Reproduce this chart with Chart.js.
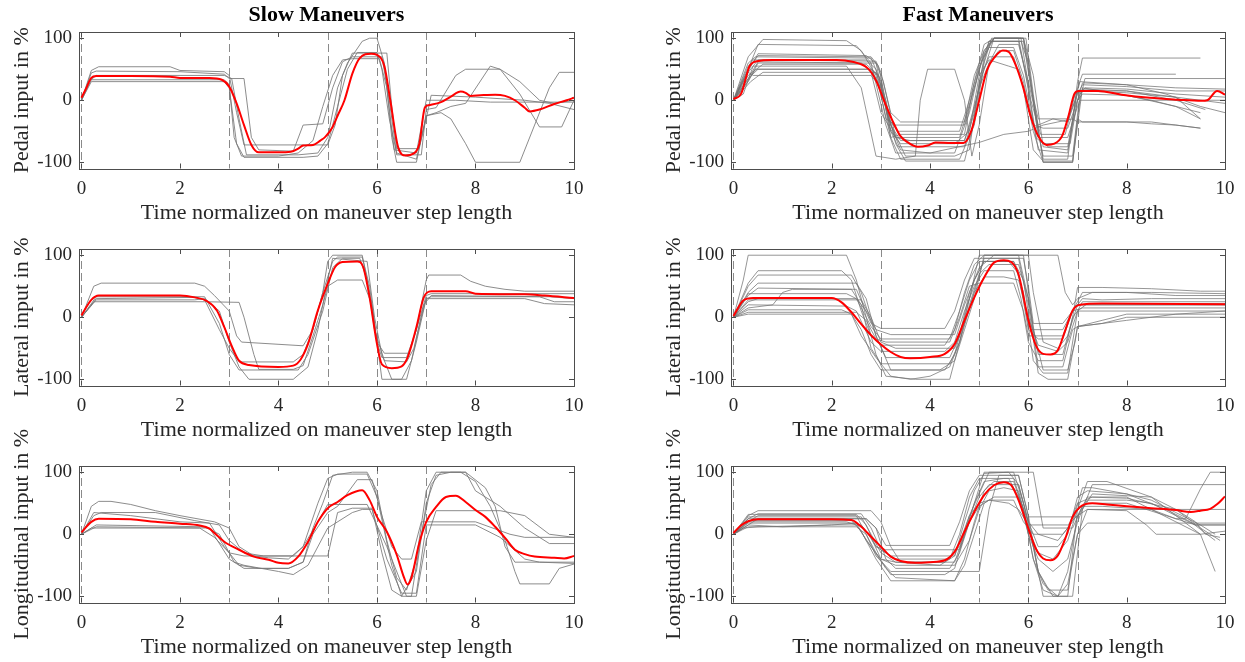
<!DOCTYPE html>
<html>
<head>
<meta charset="utf-8">
<title>Slow and fast maneuvers</title>
<script src="https://cdn.jsdelivr.net/npm/chart.js@4.4.0/dist/chart.umd.min.js"></script>
<style>
  html, body { margin: 0; padding: 0; background: #fff; overflow: hidden; }
  #figure { position: relative; width: 1245px; height: 662px; }
  #figure canvas { position: absolute; }
</style>
</head>
<body>
<div id="figure">
  <canvas id="slowPedal" width="600" height="227" style="left:0;top:0"></canvas>
  <canvas id="slowLateral" width="600" height="247" style="left:0;top:197px"></canvas>
  <canvas id="slowLong" width="600" height="247" style="left:0;top:414px"></canvas>
  <canvas id="fastPedal" width="600" height="227" style="left:645px;top:0"></canvas>
  <canvas id="fastLateral" width="600" height="247" style="left:645px;top:197px"></canvas>
  <canvas id="fastLong" width="600" height="247" style="left:645px;top:414px"></canvas>
</div>
<script>
// Axis ticks and maneuver phase boundaries
const timeTicks = [0, 2, 4, 6, 8, 10];
const inputTicks = [-100, 0, 100];
const phaseBounds = [0, 3, 5, 6, 7];

// ---- Slow maneuvers: pedal ----
const slowPedalMean = [[0,4],[0.1,20],[0.2,36],[0.3,39],[1.0,39],[1.8,38],[2.0,36],[2.6,36],[2.85,33],[3.0,22],[3.15,-5],[3.3,-40],[3.45,-72],[3.6,-84],[4.0,-84],[4.25,-83],[4.4,-78],[4.5,-73],[4.7,-72],[4.85,-65],[4.95,-59],[5.1,-43],[5.2,-25],[5.34,0],[5.5,43],[5.65,68],[5.88,75],[6.0,73],[6.15,55],[6.27,0],[6.43,-76],[6.58,-89],[6.74,-86],[6.86,-70],[6.97,-12],[7.05,-8],[7.3,-3],[7.5,6],[7.7,14],[7.8,12],[7.9,7],[8.1,8],[8.4,9],[8.6,7],[8.8,0],[9.0,-12],[9.1,-18],[9.3,-15],[9.6,-6],[9.85,0],[10,4]];
const slowPedalRuns = [
  [[0,0],[0.2,48],[0.35,54],[1.8,54],[2.0,48],[2.9,46],[3.0,40],[3.15,-20],[3.3,-72],[5.0,-72],[5.15,-40],[5.3,40],[5.5,76],[6.2,76],[6.3,-10],[6.4,-78],[6.85,-78],[7.0,-30],[7.1,8],[8.0,5],[9.0,0],[9.5,-5],[10,-15]],
  [[0,0],[0.2,44],[0.3,47],[2.0,46],[2.9,42],[3.0,35],[3.3,35],[3.45,-60],[3.6,-80],[4.3,-82],[4.5,-40],[4.9,-38],[5.1,20],[5.3,62],[5.5,70],[6.1,70],[6.25,0],[6.4,-88],[6.9,-88],[7.0,-15],[7.2,-12],[7.6,40],[7.8,50],[8.5,50],[8.9,30],[9.3,0],[9.6,-5],[10,0]],
  [[0,0],[0.15,30],[0.3,40],[2.9,40],[3.05,35],[3.2,-30],[3.35,-88],[4.4,-88],[4.8,-85],[5.0,-60],[5.2,20],[5.4,60],[5.7,95],[5.85,100],[6.0,100],[6.15,60],[6.3,-60],[6.4,-100],[6.8,-100],[7.0,-25],[7.2,-20],[7.5,-10],[7.8,-5],[8.3,55],[8.5,50],[8.9,10],[9.3,-43],[9.75,-43],[10,0]],
  [[0,0],[0.2,33],[2.9,33],[3.0,25],[3.1,-60],[3.25,-90],[4.0,-90],[4.4,-85],[4.7,-65],[4.9,-10],[5.1,40],[5.3,65],[5.5,67],[6.05,67],[6.2,20],[6.35,-80],[6.8,-85],[7.0,0],[7.6,0],[8.3,-3],[9.0,-3],[10,-3]],
  [[0,0],[0.2,30],[2.9,30],[3.0,20],[3.15,-70],[3.3,-92],[4.5,-92],[4.8,-90],[5.0,-70],[5.2,-10],[5.4,50],[5.6,77],[6.0,77],[6.1,50],[6.25,-30],[6.4,-85],[6.8,-95],[7.0,-25],[7.3,-20],[7.5,-30],[7.8,-70],[8.0,-100],[8.9,-100],[9.2,-40],[9.5,20],[9.7,45],[10,45]]
];

// ---- Slow maneuvers: lateral ----
const slowLateralMean = [[0,3],[0.2,28],[0.35,35],[2.0,35],[2.3,32],[2.55,26],[2.75,11],[2.9,-16],[3.05,-46],[3.2,-70],[3.4,-77],[4.0,-80],[4.3,-78],[4.45,-68],[4.6,-43],[4.8,11],[5.0,54],[5.15,81],[5.3,89],[5.6,90],[5.72,81],[5.85,32],[6.0,-43],[6.1,-76],[6.3,-82],[6.5,-79],[6.62,-65],[6.8,-16],[6.95,32],[7.1,42],[7.8,42],[8.0,38],[9.0,37],[9.4,35],[10,31]];
const slowLateralRuns = [
  [[0,0],[0.25,50],[0.4,55],[2.3,55],[2.5,50],[2.7,35],[3.0,10],[3.15,-30],[3.25,-40],[4.5,-46],[4.7,-20],[4.9,40],[5.1,90],[5.2,97],[5.7,97],[5.85,50],[6.0,-40],[6.15,-58],[6.65,-58],[6.8,-20],[7.0,60],[7.05,68],[7.7,68],[7.9,58],[8.2,50],[8.6,45],[9.0,42],[10,42]],
  [[0,0],[0.3,30],[2.3,32],[2.5,28],[2.8,-20],[3.0,-50],[3.2,-72],[4.3,-72],[4.5,-60],[4.7,-20],[4.9,40],[5.0,90],[5.1,100],[5.7,100],[5.85,40],[6.0,-40],[6.1,-65],[6.6,-65],[6.8,-20],[7.0,35],[7.1,38],[10,38]],
  [[0,0],[0.25,25],[2.5,25],[3.2,24],[3.3,0],[3.5,-60],[3.6,-84],[4.3,-84],[4.5,-78],[4.7,-30],[4.9,20],[5.0,50],[5.2,60],[5.7,60],[5.9,20],[6.0,-40],[6.1,-100],[6.6,-100],[6.8,-40],[7.0,30],[7.1,33],[9.3,33],[9.6,25],[10,25]],
  [[0,0],[0.3,28],[2.3,28],[2.5,30],[2.8,10],[3.0,-40],[3.2,-80],[3.4,-100],[4.3,-100],[4.6,-80],[4.8,-20],[5.0,60],[5.1,95],[5.8,90],[5.95,0],[6.1,-60],[6.3,-100],[6.5,-100],[6.7,-70],[6.9,0],[7.0,30],[9.0,30],[9.4,22],[10,20]],
  [[0,0],[0.3,33],[2.5,33],[2.8,-10],[3.0,-60],[3.2,-85],[4.4,-85],[4.6,-60],[4.9,10],[5.1,80],[5.3,95],[5.65,95],[5.8,60],[5.95,-20],[6.15,-70],[6.6,-72],[6.75,-50],[6.95,20],[7.1,35],[9.5,33],[10,30]]
];

// ---- Slow maneuvers: longitudinal ----
const slowLongMean = [[0,3],[0.2,20],[0.35,25],[1.0,24],[1.5,20],[2.0,17],[2.4,14],[2.6,9],[2.7,2],[2.9,-12],[3.2,-25],[3.5,-36],[3.8,-41],[4.0,-46],[4.2,-47],[4.4,-36],[4.6,-12],[4.8,20],[5.0,42],[5.2,52],[5.4,63],[5.7,71],[5.85,55],[6.0,28],[6.2,4],[6.4,-33],[6.55,-70],[6.62,-81],[6.7,-70],[6.85,-17],[7.0,20],[7.2,44],[7.4,60],[7.6,62],[7.8,52],[8.0,39],[8.2,28],[8.4,12],[8.6,-6],[8.8,-25],[9.0,-32],[9.2,-36],[9.6,-38],[9.8,-39],[10,-35]];
const slowLongRuns = [
  [[0,0],[0.2,45],[0.35,53],[0.6,53],[1.0,48],[1.5,38],[2.0,30],[2.7,20],[3.0,10],[3.2,-20],[3.5,-35],[3.8,-38],[4.2,-40],[4.5,-20],[4.8,50],[5.0,90],[5.2,97],[5.8,97],[6.0,60],[6.3,-50],[6.5,-100],[6.7,-100],[6.9,0],[7.1,80],[7.3,100],[7.8,100],[8.0,70],[8.5,45],[9.0,10],[9.5,-15],[10,-15]],
  [[0,0],[0.25,30],[0.4,35],[1.5,35],[2.3,22],[2.8,15],[3.0,-10],[3.3,-30],[3.7,-35],[4.3,-35],[4.5,-20],[4.8,20],[5.0,48],[5.8,48],[6.2,-20],[6.5,-80],[6.6,-100],[6.8,-100],[7.0,-10],[7.2,38],[8.5,38],[9.0,30],[9.5,0],[10,-5]],
  [[0,0],[0.2,10],[2.4,10],[2.7,-5],[3.0,-30],[3.3,-35],[5.0,-35],[5.2,35],[5.5,42],[5.9,42],[6.1,-30],[6.3,-90],[6.5,-100],[6.8,-60],[7.0,50],[7.2,95],[7.5,100],[7.8,100],[8.2,75],[8.4,45],[8.6,-20],[8.8,-45],[9.3,-45],[10,-45]],
  [[0,0],[0.3,15],[2.5,12],[2.8,0],[3.1,-45],[3.3,-50],[4.0,-60],[4.3,-65],[4.6,-50],[5.0,10],[5.5,35],[5.7,40],[5.9,40],[6.2,-40],[6.5,-95],[6.8,-95],[7.0,15],[8.0,15],[8.5,-5],[9.0,-40],[9.3,-45],[10,-47]],
  [[0,0],[0.25,35],[1.0,30],[2.0,20],[2.6,18],[2.9,-20],[3.2,-50],[3.6,-55],[4.2,-55],[4.5,-45],[4.7,10],[4.9,50],[5.1,95],[5.5,100],[5.8,100],[6.0,70],[6.2,-10],[6.4,-70],[6.6,-90],[6.8,-40],[7.0,70],[7.2,100],[7.7,100],[8.0,85],[8.3,45],[8.6,-10],[8.8,-60],[8.9,-80],[9.5,-80],[9.7,-55],[10,-48]],
  [[0,0],[0.3,12],[2.6,10],[3.0,-40],[3.3,-55],[4.2,-55],[4.5,-45],[4.7,0],[5.0,35],[5.2,45],[5.6,88],[5.9,88],[6.1,30],[6.3,-20],[6.5,-40],[6.7,-40],[6.9,20],[8.0,20],[8.7,0],[9.0,-5],[10,-5]]
];

// ---- Fast maneuvers: pedal ----
const fastPedalMean = [[0,2],[0.16,11],[0.25,35],[0.32,54],[0.48,63],[0.8,65],[2.1,65],[2.42,62],[2.74,51],[2.9,32],[3.06,0],[3.23,-32],[3.39,-57],[3.55,-68],[3.75,-75],[3.95,-73],[4.11,-68],[4.44,-69],[4.68,-69],[4.84,-49],[5.0,0],[5.16,49],[5.32,70],[5.48,80],[5.6,78],[5.73,59],[5.89,22],[6.05,-27],[6.21,-59],[6.37,-72],[6.53,-70],[6.69,-57],[6.81,-27],[6.94,11],[7.02,15],[7.42,15],[7.9,9],[8.47,4],[9.03,1],[9.52,-1],[9.64,0],[9.84,15],[10,9]];
const fastPedalRuns = [
  [[0,0],[0.3,70],[0.6,98],[2.3,96],[2.6,80],[2.9,40],[3.2,-60],[3.4,-95],[4.6,-95],[4.9,-40],[5.1,60],[5.25,100],[5.9,100],[6.1,0],[6.3,-95],[6.8,-95],[7.0,30],[7.1,68],[9.5,68]],
  [[0,0],[0.3,50],[0.5,90],[2.5,88],[2.8,60],[3.1,-40],[3.3,-85],[4.5,-85],[4.8,-20],[5.0,50],[5.2,95],[5.8,95],[6.0,20],[6.2,-80],[6.8,-85],[7.0,20],[7.1,42],[9.0,42]],
  [[0,0],[0.25,40],[0.5,75],[2.7,72],[2.9,60],[3.2,-50],[3.35,-75],[4.7,-75],[4.9,-20],[5.1,70],[5.3,100],[5.95,100],[6.1,10],[6.3,-100],[6.9,-100],[7.05,0],[7.15,35],[10,35]],
  [[0,0],[0.3,60],[0.45,70],[2.8,68],[3.0,30],[3.2,-60],[3.4,-55],[4.7,-55],[4.9,30],[5.1,90],[5.3,100],[5.8,100],[5.95,40],[6.15,-60],[6.3,-70],[6.85,-70],[7.0,0],[7.1,28],[8.0,25],[9.0,20],[10,18]],
  [[0,0],[0.2,10],[0.4,55],[2.3,55],[2.6,20],[2.9,-90],[3.3,-95],[3.7,-90],[3.8,0],[3.95,50],[4.5,50],[4.7,0],[4.85,-90],[5.0,-40],[5.2,60],[5.4,90],[5.8,90],[6.0,30],[6.2,-40],[6.5,-30],[6.8,-35],[7.0,10],[7.1,25],[8.0,22],[9.0,15],[10,15]],
  [[0,0],[0.3,35],[0.5,62],[2.6,60],[2.8,45],[3.0,-20],[3.3,-60],[3.6,-65],[4.7,-65],[4.85,-30],[5.0,20],[5.2,60],[5.4,80],[5.7,80],[5.9,30],[6.1,-50],[6.3,-100],[6.9,-100],[7.0,-40],[7.1,20],[7.5,15],[8.5,0],[9.0,-10],[9.5,-30]],
  [[0,0],[0.2,20],[0.45,50],[2.8,50],[3.0,20],[3.2,-40],[3.4,-80],[4.0,-85],[5.0,-68],[5.5,-55],[6.0,-50],[6.3,-40],[6.6,-35],[6.9,-30],[7.0,-35],[8.0,-35],[8.5,-38],[9.0,-40],[9.5,-45]],
  [[0,0],[0.3,45],[0.5,65],[2.7,65],[2.9,50],[3.1,-30],[3.3,-40],[4.7,-40],[4.9,20],[5.1,75],[5.3,100],[5.85,100],[6.05,0],[6.25,-55],[6.75,-55],[6.95,10],[7.1,15],[8.0,12],[9.0,5],[9.5,0],[10,-5]],
  [[0,0],[0.3,40],[0.6,58],[2.7,58],[2.95,40],[3.15,-30],[3.35,-50],[4.6,-50],[4.8,0],[5.0,55],[5.2,85],[5.7,85],[5.9,40],[6.1,-40],[6.3,-45],[6.8,-45],[7.0,0],[7.1,10],[8.0,8],[9.0,-10],[9.5,-20]],
  [[0,0],[0.35,30],[0.6,45],[2.9,45],[3.1,0],[3.3,-70],[3.5,-98],[4.7,-98],[4.85,-50],[5.05,40],[5.2,70],[5.7,70],[5.9,20],[6.1,-80],[6.3,-98],[6.9,-98],[7.0,-30],[7.1,-35],[8.5,-35],[9.0,-40],[9.5,-45]],
  [[0,0],[0.3,45],[0.4,40],[2.8,40],[3.0,20],[3.2,-40],[3.4,-65],[4.7,-65],[4.9,-10],[5.1,50],[5.3,100],[5.9,100],[6.0,60],[6.15,-30],[6.3,-90],[6.9,-90],[7.05,10],[7.15,20],[8.0,18],[9.0,10],[10,5]],
  [[0,0],[0.3,50],[0.5,72],[2.8,70],[2.95,55],[3.2,-40],[3.5,-90],[4.5,-90],[4.8,-80],[5.0,30],[5.2,95],[5.9,95],[6.05,20],[6.2,-30],[6.8,-30],[6.95,0],[7.05,30],[8.0,25],[8.8,10],[9.5,-10],[10,-20]],
  [[0,0],[0.3,30],[0.5,60],[2.9,60],[3.05,30],[3.3,-60],[4.6,-60],[4.9,20],[5.1,80],[5.25,95],[5.85,95],[6.0,60],[6.2,-60],[6.4,-75],[6.8,-75],[7.0,15],[8.0,15],[9.0,5],[9.5,-30]],
  [[0,0],[0.3,55],[0.4,65],[2.9,63],[3.0,45],[3.2,-20],[3.4,-35],[4.7,-35],[4.9,40],[5.1,80],[5.3,100],[5.9,100],[6.1,40],[6.3,-75],[6.8,-80],[7.0,0],[7.1,18],[8.0,15],[9.0,0],[9.6,-15]],
  [[0,0],[0.3,35],[0.5,50],[2.8,50],[3.0,35],[3.2,-50],[3.4,-70],[4.5,-70],[4.8,-50],[5.0,40],[5.2,65],[5.6,55],[5.8,50],[6.0,-10],[6.2,-60],[6.8,-60],[7.0,-10],[7.05,0],[10,0]]
];

// ---- Fast maneuvers: lateral ----
const fastLateralMean = [[0,2],[0.2,27],[0.4,31],[2.0,31],[2.2,24],[2.4,8],[2.6,-11],[2.8,-29],[3.0,-44],[3.2,-56],[3.4,-64],[3.6,-66],[4.0,-64],[4.3,-59],[4.5,-43],[4.7,-5],[4.9,32],[5.1,64],[5.3,88],[5.5,92],[5.65,89],[5.8,69],[6.0,-5],[6.15,-45],[6.3,-59],[6.45,-60],[6.6,-53],[6.75,-21],[6.9,11],[7.05,20],[7.5,22],[10,21]];
const fastLateralRuns = [
  [[0,0],[0.2,60],[0.3,100],[2.3,100],[2.5,60],[2.7,0],[2.9,-60],[3.1,-95],[3.7,-100],[4.4,-100],[4.6,-40],[4.8,30],[5.0,100],[6.0,100],[6.1,40],[6.3,-40],[6.6,-50],[6.8,-30],[7.0,20],[10,20]],
  [[0,0],[0.3,55],[0.5,75],[2.2,75],[2.4,60],[2.6,10],[2.8,-30],[3.0,-45],[4.3,-45],[4.5,-20],[4.7,40],[4.9,85],[5.1,100],[5.8,100],[6.0,30],[6.2,-60],[6.7,-60],[6.9,0],[7.0,48],[7.5,48],[8.5,46],[9.5,42],[10,42]],
  [[0,0],[0.3,50],[0.5,68],[2.4,68],[2.6,40],[2.9,-30],[3.1,-65],[4.4,-65],[4.6,-30],[4.8,40],[5.0,80],[5.3,100],[6.6,100],[6.75,40],[6.9,20],[7.0,30],[7.3,40],[8.5,40],[10,38]],
  [[0,0],[0.3,40],[0.5,55],[2.5,55],[2.7,30],[2.9,-30],[3.2,-85],[4.3,-85],[4.5,-60],[4.7,0],[4.9,60],[5.1,90],[5.7,90],[5.9,40],[6.1,-70],[6.3,-90],[6.8,-90],[7.0,10],[7.1,25],[10,25]],
  [[0,0],[0.3,35],[0.5,47],[2.5,45],[2.8,-10],[3.0,-18],[4.3,-18],[4.5,10],[4.7,60],[4.9,95],[5.9,95],[6.0,50],[6.1,-10],[6.7,-10],[6.9,10],[7.1,15],[10,15]],
  [[0,0],[0.3,15],[0.8,20],[1.0,40],[1.2,45],[2.4,45],[2.6,20],[2.8,-50],[3.0,-75],[4.4,-75],[4.6,-40],[4.8,20],[5.0,70],[5.2,85],[5.8,85],[6.0,30],[6.2,-80],[6.7,-80],[6.9,-20],[7.0,-15],[7.5,-5],[8.0,5],[10,5]],
  [[0,0],[0.3,25],[0.5,30],[2.5,30],[2.7,10],[2.9,-20],[3.2,-28],[4.5,-28],[4.7,20],[4.9,60],[5.1,90],[5.7,90],[5.9,60],[6.05,-20],[6.7,-20],[6.9,10],[7.1,30],[7.5,28],[8.5,30],[10,30]],
  [[0,0],[0.3,20],[2.3,18],[2.5,10],[2.8,-40],[3.0,-55],[4.3,-55],[4.5,-40],[4.7,10],[4.9,50],[5.1,75],[5.7,75],[5.85,30],[6.0,-40],[6.2,-70],[6.7,-70],[6.9,0],[7.0,10],[10,10]],
  [[0,0],[0.3,12],[2.2,12],[2.4,5],[2.6,-30],[2.9,-65],[3.2,-95],[3.6,-100],[4.0,-95],[4.4,-80],[4.6,-40],[4.9,40],[5.1,95],[5.8,95],[6.0,20],[6.2,-90],[6.4,-100],[6.8,-100],[7.0,-15],[7.5,-10],[8.0,0],[10,0]],
  [[0,0],[0.3,8],[2.5,8],[2.7,-5],[2.9,-35],[3.1,-40],[4.4,-40],[4.6,0],[4.8,50],[5.0,55],[5.7,55],[5.9,10],[6.0,-30],[6.7,-30],[6.9,10],[7.0,20],[10,20]],
  [[0,0],[0.3,28],[2.6,28],[2.8,0],[3.0,-40],[3.3,-50],[4.5,-50],[4.7,-10],[4.9,40],[5.1,65],[5.5,65],[5.8,60],[6.0,0],[6.2,-45],[6.6,-55],[6.8,-40],[7.0,10],[7.2,22],[10,22]],
  [[0,0],[0.3,5],[2.4,5],[2.6,-20],[2.8,-60],[3.0,-85],[4.2,-85],[4.5,-70],[4.7,-20],[4.9,30],[5.1,100],[5.9,100],[6.1,-20],[6.3,-85],[6.8,-85],[6.95,-40],[7.0,-15],[8.0,-5],[9.0,5],[10,10]],
  [[0,0],[0.3,38],[2.3,38],[2.5,30],[2.8,-15],[3.0,-35],[4.4,-35],[4.6,10],[4.8,60],[5.0,90],[5.6,90],[5.8,70],[6.0,-20],[6.2,-35],[6.7,-35],[6.9,10],[7.1,40],[8.0,40],[9.0,35],[10,35]]
];

// ---- Fast maneuvers: longitudinal ----
const fastLongMean = [[0,2],[0.15,14],[0.3,21],[0.5,24],[2.0,24],[2.4,23],[2.6,12],[2.8,-4],[3.0,-20],[3.2,-36],[3.4,-43],[3.7,-46],[4.0,-45],[4.3,-42],[4.5,-28],[4.7,4],[4.9,36],[5.1,63],[5.3,79],[5.5,84],[5.65,79],[5.8,55],[6.0,9],[6.15,-23],[6.3,-39],[6.45,-42],[6.6,-34],[6.75,-7],[6.9,28],[7.05,44],[7.3,50],[7.6,48],[8.0,45],[8.5,42],[9.0,39],[9.3,36],[9.5,38],[9.7,41],[9.85,49],[10,61]];
const fastLongRuns = [
  [[0,0],[0.3,30],[0.5,38],[2.8,38],[3.0,20],[3.2,-20],[3.4,-45],[4.5,-45],[4.7,0],[4.9,50],[5.1,100],[5.7,100],[5.9,50],[6.1,-20],[6.3,-100],[6.8,-100],[7.0,40],[7.2,85],[7.6,85],[8.5,60],[9.0,30],[9.5,0],[9.8,-60]],
  [[0,0],[0.3,25],[0.5,33],[2.6,33],[2.8,10],[3.0,-25],[3.3,-40],[4.4,-40],[4.6,0],[4.8,60],[5.0,90],[5.6,90],[5.8,60],[6.0,0],[6.2,-40],[6.5,-60],[6.8,-40],[7.0,20],[7.3,80],[8.0,80],[10,80]],
  [[0,0],[0.3,20],[0.5,30],[2.5,30],[2.7,0],[2.9,-35],[3.2,-60],[5.0,-60],[5.2,40],[5.4,95],[5.8,95],[6.0,30],[6.2,-60],[6.5,-100],[6.9,-100],[7.1,40],[7.3,65],[8.5,60],[9.0,40],[9.5,10],[9.9,-10]],
  [[0,0],[0.3,15],[0.5,25],[2.7,25],[2.9,10],[3.1,-18],[4.4,-18],[4.6,20],[4.8,70],[5.0,95],[5.8,95],[6.0,28],[7.0,28],[7.2,55],[8.0,55],[8.5,50],[9.0,30],[9.4,15],[10,15]],
  [[0,0],[0.3,20],[2.3,20],[2.5,15],[2.8,-20],[3.1,-55],[3.3,-70],[4.5,-75],[4.7,-40],[4.9,20],[5.1,70],[5.3,85],[5.7,85],[5.9,40],[6.1,-40],[6.3,-90],[6.6,-100],[6.8,-60],[7.0,30],[7.2,60],[8.0,58],[9.0,40],[9.4,20],[9.6,0],[9.9,-5]],
  [[0,0],[0.2,10],[0.5,12],[2.0,15],[2.5,18],[2.7,-10],[3.0,-40],[3.3,-50],[4.5,-50],[4.8,-10],[5.0,40],[5.2,70],[5.5,75],[5.8,70],[6.0,10],[6.2,-30],[6.5,-40],[6.8,-10],[7.0,40],[7.2,50],[8.0,50],[8.8,30],[9.4,15],[10,15]],
  [[0,0],[0.3,28],[2.6,28],[2.8,0],[3.0,-30],[3.3,-45],[4.2,-50],[4.5,-35],[4.8,30],[5.0,65],[5.2,100],[6.1,100],[6.3,10],[6.9,10],[7.1,45],[7.5,45],[8.5,40],[9.0,20],[9.5,0]],
  [[0,0],[0.3,22],[2.4,22],[2.6,5],[2.9,-40],[3.2,-75],[4.5,-75],[4.7,-50],[4.9,0],[5.1,50],[5.3,60],[5.8,60],[6.0,20],[6.2,0],[6.6,-10],[6.8,10],[7.0,50],[7.3,60],[8.0,60],[8.5,40],[9.0,25],[9.2,25],[9.5,73],[9.7,100],[10,100]],
  [[0,0],[0.3,18],[2.5,18],[2.7,5],[2.9,-20],[3.1,-25],[4.6,-25],[4.8,20],[5.0,60],[5.2,80],[5.8,80],[6.0,20],[6.2,-20],[6.6,-20],[6.8,0],[7.0,60],[7.2,70],[8.0,65],[8.8,40],[9.3,20],[9.8,-10]],
  [[0,0],[0.3,12],[2.5,12],[2.7,0],[2.9,-30],[3.2,-65],[4.3,-65],[4.5,-55],[4.7,0],[4.9,50],[5.1,85],[5.5,90],[5.7,90],[5.9,40],[6.1,-40],[6.3,-80],[6.6,-100],[6.8,-80],[7.0,0],[7.2,18],[8.5,18],[10,18]],
  [[0,0],[0.3,25],[2.7,25],[2.9,10],[3.1,-40],[3.3,-55],[4.4,-55],[4.6,-30],[4.8,20],[5.0,45],[5.2,55],[5.7,55],[5.9,20],[6.1,0],[6.7,0],[6.9,20],[7.1,75],[7.3,75],[8.0,65],[8.5,55],[9.0,35],[9.5,15],[9.8,0]],
  [[0,0],[0.3,32],[2.5,32],[2.7,15],[2.9,-20],[3.2,-35],[4.5,-35],[4.7,20],[4.9,70],[5.1,98],[5.6,100],[5.8,80],[6.0,20],[6.2,-60],[6.4,-90],[6.8,-90],[7.0,0],[7.2,40],[9.0,40],[10,40]],
  [[0,0],[0.3,15],[1.0,12],[2.0,15],[2.6,15],[2.8,-5],[3.0,-40],[3.3,-45],[4.3,-45],[4.6,-20],[4.8,30],[5.0,50],[5.2,55],[5.6,50],[5.8,40],[6.0,15],[6.8,15],[7.0,30],[7.2,40],[8.0,38],[8.4,15],[8.6,0],[9.5,0],[10,5]]
];

const serif = "'Liberation Serif', 'Times New Roman', serif";
const textColor = '#262626';
const frameColor = '#4d4d4d';

// Box round the plot area with inward tick marks, like the MATLAB axes
const framePlugin = {
  id: 'frame',
  afterDraw(chart) {
    const { ctx, chartArea: a, scales } = chart;
    ctx.save();
    ctx.strokeStyle = frameColor;
    ctx.lineWidth = 1;
    ctx.strokeRect(Math.round(a.left) + 0.5, Math.round(a.top) + 0.5,
      Math.round(a.right - a.left), Math.round(a.bottom - a.top));
    ctx.beginPath();
    timeTicks.forEach(v => {
      const x = Math.round(scales.x.getPixelForValue(v)) + 0.5;
      ctx.moveTo(x, a.bottom); ctx.lineTo(x, a.bottom - 5);
      ctx.moveTo(x, a.top); ctx.lineTo(x, a.top + 5);
    });
    inputTicks.forEach(v => {
      const y = Math.round(scales.y.getPixelForValue(v)) + 0.5;
      ctx.moveTo(a.left, y); ctx.lineTo(a.left + 5, y);
      ctx.moveTo(a.right, y); ctx.lineTo(a.right - 5, y);
    });
    ctx.stroke();
    ctx.restore();
  }
};

// Dashed vertical lines at the maneuver step boundaries
const phasePlugin = {
  id: 'phases',
  beforeDatasetsDraw(chart) {
    const { ctx, chartArea: a, scales } = chart;
    ctx.save();
    ctx.strokeStyle = '#8a8a8a';
    ctx.lineWidth = 1;
    ctx.setLineDash([8, 4]);
    ctx.beginPath();
    phaseBounds.forEach(v => {
      const x = Math.round(scales.x.getPixelForValue(v)) + 0.5;
      ctx.moveTo(x, a.top);
      ctx.lineTo(x, a.bottom);
    });
    ctx.stroke();
    ctx.restore();
  }
};

// Rotated y title, allowed to run past the plot height
const yTitlePlugin = {
  id: 'yTitle',
  afterDraw(chart, args, opts) {
    const { ctx, chartArea: a } = chart;
    ctx.save();
    ctx.translate(opts.x, (a.top + a.bottom) / 2);
    ctx.rotate(-Math.PI / 2);
    ctx.font = '22px ' + serif;
    ctx.fillStyle = textColor;
    ctx.textAlign = 'center';
    ctx.textBaseline = 'middle';
    ctx.fillText(opts.text, 0, 0);
    ctx.restore();
  }
};

function makePanel(id, mean, runs, yLabel, opts) {
  const toPoints = arr => arr.map(p => ({ x: p[0], y: p[1] }));
  const datasets = [{
    data: toPoints(mean),
    borderColor: '#ff0000',
    borderWidth: 2,
    pointRadius: 0,
    cubicInterpolationMode: 'monotone',
    order: 0
  }].concat(runs.map(r => ({
    data: toPoints(r),
    borderColor: opts.runColor,
    borderWidth: 1,
    pointRadius: 0,
    tension: 0,
    order: 1
  })));

  new Chart(document.getElementById(id), {
    type: 'line',
    data: { datasets },
    options: {
      responsive: false,
      animation: false,
      events: [],
      layout: { padding: { top: opts.title ? 0 : 52, right: opts.padRight, bottom: 0, left: 0 } },
      plugins: {
        legend: { display: false },
        tooltip: { enabled: false },
        title: {
          display: !!opts.title,
          text: opts.title || '',
          fullSize: false,
          color: '#000',
          font: { family: serif, size: 22, weight: 'bold' },
          padding: { top: 2, bottom: 3.6 }
        },
        yTitle: { text: yLabel, x: opts.titleX }
      },
      scales: {
        x: {
          type: 'linear',
          min: -0.05,
          max: 10,
          afterBuildTicks: s => { s.ticks = timeTicks.map(v => ({ value: v })); },
          afterFit: s => { s.height = 58.5; },
          grid: { display: false, drawTicks: false },
          border: { display: false },
          ticks: { padding: 9, color: textColor, font: { family: serif, size: 19 }, maxRotation: 0 },
          title: {
            display: true,
            text: 'Time normalized on maneuver step length',
            color: textColor,
            font: { family: serif, size: 22 },
            padding: { top: 0, bottom: 1 }
          }
        },
        y: {
          min: -110,
          max: 110,
          afterBuildTicks: s => { s.ticks = inputTicks.map(v => ({ value: v })); },
          afterFit: s => { s.width = opts.axisWidth; },
          grid: { display: false, drawTicks: false },
          border: { display: false },
          ticks: { padding: 7, color: textColor, font: { family: serif, size: 19 } }
        }
      }
    },
    plugins: [phasePlugin, framePlugin, yTitlePlugin]
  });
}

const leftCol = { axisWidth: 79, padRight: 26, titleX: 22, runColor: 'rgba(120,120,120,0.85)' };
const rightCol = { axisWidth: 86, padRight: 20, titleX: 29, runColor: 'rgba(115,115,115,0.75)' };

makePanel('slowPedal', slowPedalMean, slowPedalRuns, 'Pedal input in %', { ...leftCol, title: 'Slow Maneuvers' });
makePanel('slowLateral', slowLateralMean, slowLateralRuns, 'Lateral input in %', leftCol);
makePanel('slowLong', slowLongMean, slowLongRuns, 'Longitudinal input in %', leftCol);
makePanel('fastPedal', fastPedalMean, fastPedalRuns, 'Pedal input in %', { ...rightCol, title: 'Fast Maneuvers' });
makePanel('fastLateral', fastLateralMean, fastLateralRuns, 'Lateral input in %', rightCol);
makePanel('fastLong', fastLongMean, fastLongRuns, 'Longitudinal input in %', rightCol);
</script>
</body>
</html>
